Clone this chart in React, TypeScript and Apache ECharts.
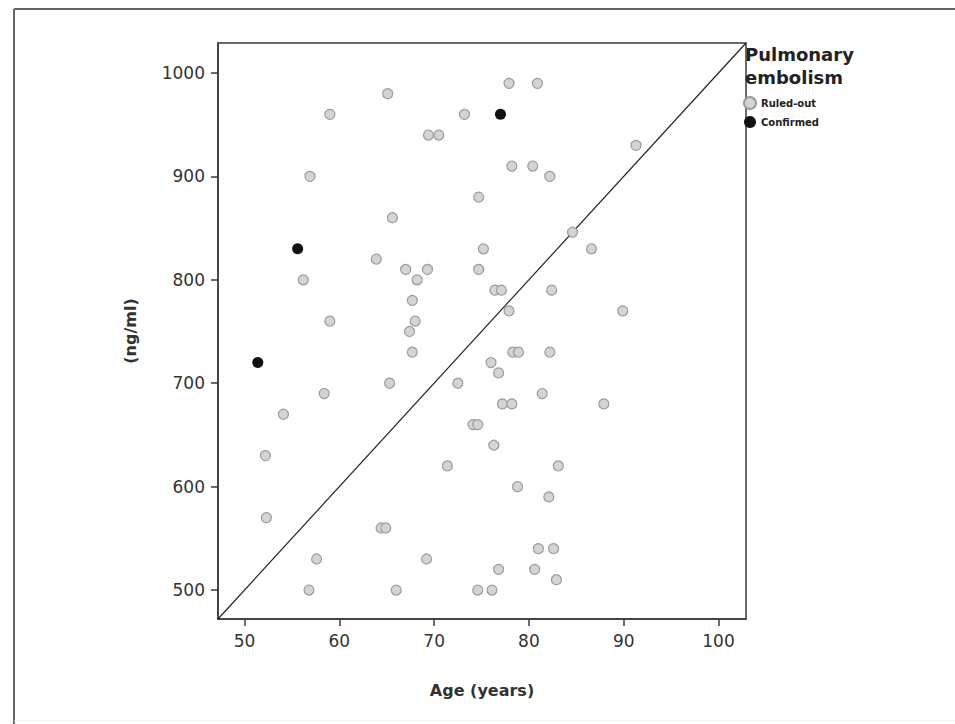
import React, { useEffect, useRef } from "react";
import * as echarts from "echarts";

// Age (years) and D-dimer (ng/ml) per patient, by outcome
const ruledOutAge = [
  59.0, 65.1, 73.2, 69.4, 70.5, 56.9, 65.6, 74.7, 77.9, 80.9, 78.2, 80.4, 82.2, 91.3, 84.6,
  63.9, 67.0, 69.3, 68.2, 56.2, 67.7, 68.0, 59.0, 67.4, 67.7, 65.3, 72.5, 58.4, 54.1, 74.1,
  74.6, 75.2, 86.6, 74.7, 76.4, 77.1, 82.4, 77.9, 89.9, 78.3, 78.9, 82.2, 76.0, 76.8, 81.4,
  77.2, 78.2, 87.9, 52.2, 71.4, 52.3, 64.4, 64.9, 57.6, 69.2, 56.8, 66.0, 74.6, 76.1, 76.3,
  83.1, 78.8, 82.1, 81.0, 82.6, 76.8, 80.6, 82.9,
];
const ruledOutDDimer = [
  960, 980, 960, 940, 940, 900, 860, 880, 990, 990, 910, 910, 900, 930, 846,
  820, 810, 810, 800, 800, 780, 760, 760, 750, 730, 700, 700, 690, 670, 660,
  660, 830, 830, 810, 790, 790, 790, 770, 770, 730, 730, 730, 720, 710, 690,
  680, 680, 680, 630, 620, 570, 560, 560, 530, 530, 500, 500, 500, 500, 640,
  620, 600, 590, 540, 540, 520, 520, 510,
];
const confirmedAge = [77.0, 55.6, 51.4];
const confirmedDDimer = [960, 830, 720];

// Age-adjusted cut-off (age x 10), drawn corner to corner
const cutoffAge = [47.2, 102.9];
const cutoffDDimer = [472, 1029];

const xTicks = [50, 60, 70, 80, 90, 100];
const yTicks = [500, 600, 700, 800, 900, 1000];

const seriesNames = ["Ruled-out", "Confirmed"];

const FONT = "DejaVu Sans";

export default function App() {
  const ref = useRef<HTMLDivElement>(null);

  useEffect(() => {
    if (!ref.current) return;
    const chart = echarts.init(ref.current, null, { renderer: "svg" });
    const zip = (a: number[], b: number[]) => a.map((v, i) => [v, b[i]]);
    const plain = (v: number) => String(Math.round(v));

    chart.setOption({
      animation: false,
      backgroundColor: "#ffffff",
      textStyle: { fontFamily: FONT },
      grid: {
        left: 218,
        top: 43,
        width: 528,
        height: 576,
        show: true,
        borderColor: "#3a3a3a",
        borderWidth: 1.5,
        backgroundColor: "transparent",
      },
      legend: {
        data: seriesNames,
        orient: "vertical",
        left: 743,
        top: 96,
        padding: 0,
        itemGap: 6,
        itemWidth: 12,
        itemHeight: 12,
        icon: "circle",
        textStyle: { fontFamily: FONT, fontSize: 10, fontWeight: "bold", color: "#222", padding: [0, 0, 0, 0] },
      },
      xAxis: {
        type: "value",
        min: cutoffAge[0],
        max: cutoffAge[1],
        name: "Age (years)",
        nameLocation: "middle",
        nameGap: 63,
        nameTextStyle: { fontFamily: FONT, fontSize: 16, fontWeight: "bold", color: "#333" },
        splitLine: { show: false },
        axisLine: { show: true, lineStyle: { color: "#3a3a3a", width: 1.5 } },
        axisTick: { show: true, customValues: xTicks, length: 7, lineStyle: { color: "#3a3a3a", width: 1.5 } },
        axisLabel: {
          customValues: xTicks,
          formatter: plain,
          margin: 13,
          fontFamily: FONT,
          fontSize: 17,
          color: "#333",
        },
      },
      yAxis: {
        type: "value",
        min: cutoffDDimer[0],
        max: cutoffDDimer[1],
        name: "(ng/ml)",
        nameLocation: "middle",
        nameGap: 80,
        nameTextStyle: { fontFamily: FONT, fontSize: 16, fontWeight: "bold", color: "#333" },
        splitLine: { show: false },
        axisLine: { show: true, lineStyle: { color: "#3a3a3a", width: 1.5 } },
        axisTick: { show: true, customValues: yTicks, length: 7, lineStyle: { color: "#3a3a3a", width: 1.5 } },
        axisLabel: {
          customValues: yTicks,
          formatter: plain,
          margin: 13,
          fontFamily: FONT,
          fontSize: 17,
          color: "#333",
        },
      },
      graphic: [
        {
          type: "text",
          left: 745,
          top: 43,
          style: {
            text: "Pulmonary\nembolism",
            fontFamily: FONT,
            fontSize: 18,
            fontWeight: "bold",
            lineHeight: 23,
            fill: "#222",
          },
        },
        { type: "line", shape: { x1: 14, y1: 9, x2: 955, y2: 9 }, style: { stroke: "#666", lineWidth: 2 } },
        { type: "line", shape: { x1: 14, y1: 9, x2: 14, y2: 724 }, style: { stroke: "#666", lineWidth: 2 } },
        { type: "line", shape: { x1: 14, y1: 721, x2: 955, y2: 721 }, style: { stroke: "#eeeeee", lineWidth: 1 } },
      ],
      series: [
        {
          name: "cut-off",
          type: "line",
          data: zip(cutoffAge, cutoffDDimer),
          symbol: "none",
          silent: true,
          lineStyle: { color: "#222", width: 1.2 },
          z: 1,
        },
        {
          name: seriesNames[0],
          type: "scatter",
          data: zip(ruledOutAge, ruledOutDDimer),
          symbol: "circle",
          symbolSize: 10,
          itemStyle: { color: "#d4d4d4", borderColor: "#9c9c9c", borderWidth: 1.2, opacity: 1 },
          z: 2,
        },
        {
          name: seriesNames[1],
          type: "scatter",
          data: zip(confirmedAge, confirmedDDimer),
          symbol: "circle",
          symbolSize: 11,
          itemStyle: { color: "#111111", opacity: 1 },
          z: 3,
        },
      ],
    });

    return () => chart.dispose();
  }, []);

  return (
    <div
      ref={ref}
      style={{ position: "absolute", left: 0, top: 0, width: 955, height: 724, background: "#fff" }}
    />
  );
}
